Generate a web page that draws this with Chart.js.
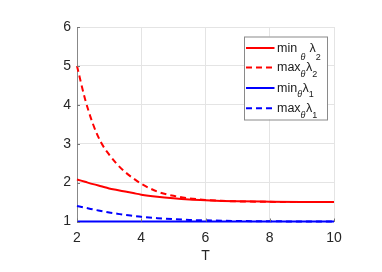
<!DOCTYPE html>
<html>
<head>
<meta charset="utf-8">
<script src="https://cdn.jsdelivr.net/npm/chart.js@4.4.1/dist/chart.umd.min.js"></script>
<style>
html,body{margin:0;padding:0;background:#fff;}
#wrap{width:382px;height:272px;}
</style>
</head>
<body>
<div id="wrap"><canvas id="c" width="382" height="272"></canvas></div>
<script>
// ---- data ----
const T      = [2, 2.25, 2.5, 2.75, 3, 3.25, 3.5, 3.75, 4, 4.5, 5, 5.5, 6, 6.5, 7, 8, 9, 10];
const minL2  = [2.08, 2.02, 1.96, 1.905, 1.85, 1.81, 1.77, 1.73, 1.69, 1.635, 1.595, 1.565, 1.545, 1.53, 1.52, 1.51, 1.503, 1.5];
const maxL2  = [5.0, 4.15, 3.5, 3.03, 2.72, 2.47, 2.27, 2.11, 1.97, 1.77, 1.66, 1.595, 1.555, 1.532, 1.518, 1.505, 1.5, 1.5];
const minL1  = [1, 1, 1, 1, 1, 1, 1, 1, 1, 1, 1, 1, 1, 1, 1, 1, 1, 1];
const maxL1  = [1.40, 1.355, 1.31, 1.27, 1.23, 1.2, 1.17, 1.145, 1.12, 1.085, 1.06, 1.04, 1.03, 1.02, 1.013, 1.005, 1.002, 1.0];
const xTicks = [2, 4, 6, 8, 10];
const yTicks = [1, 2, 3, 4, 5, 6];
const xTitle = 'T';
// legend: [main, sub1, main2, sub2]
const legendParts = [
  ['min ', '\u03B8', ' \u03BB', '2'],
  ['max', '\u03B8', '\u03BB', '2'],
  ['min', '\u03B8', '\u03BB', '1'],
  ['max', '\u03B8', '\u03BB', '1']
];

const pts = arr => T.map((t, i) => ({x: t, y: arr[i]}));
const FONT = '"Liberation Sans", Arial, Helvetica, sans-serif';

const legendPlugin = {
  id: 'matlabLegend',
  afterDraw(chart) {
    const ctx = chart.ctx;
    const bx = 244, by = 36.5, bw = 83, bh = 83;
    ctx.save();
    ctx.fillStyle = '#fff';
    ctx.fillRect(bx, by, bw, bh);
    ctx.strokeStyle = '#8a8a8a';
    ctx.lineWidth = 1;
    ctx.strokeRect(bx + 0.5, by + 0.5, bw, bh);
    const rowY = [48, 67.5, 88, 108.3];
    const drops = [8.5, 5.5, 5.5, 5.5];
    chart.data.datasets.forEach((ds, i) => {
      const y = rowY[i];
      ctx.strokeStyle = ds.borderColor;
      ctx.lineWidth = 2;
      ctx.setLineDash(ds.borderDash || []);
      ctx.beginPath();
      ctx.moveTo(246, y);
      ctx.lineTo(274.5, y);
      ctx.stroke();
      ctx.setLineDash([]);
      const p = legendParts[i];
      let x = 277;
      const base = y + 3.8;
      ctx.fillStyle = '#1a1a1a';
      ctx.textBaseline = 'alphabetic';
      ctx.textAlign = 'left';
      ctx.font = '12.5px ' + FONT;
      ctx.fillText(p[0], x, base); x += ctx.measureText(p[0]).width;
      ctx.font = 'italic 9px ' + FONT;
      ctx.fillText(p[1], x, base + drops[i]); x += ctx.measureText(p[1]).width + 0.5;
      ctx.font = '12.5px ' + FONT;
      ctx.fillText(p[2], x, base); x += ctx.measureText(p[2]).width;
      ctx.font = '9px ' + FONT;
      ctx.fillText(p[3], x, base + drops[i]);
    });
    ctx.restore();
  }
};

const tickPlugin = {
  id: 'inwardTicks',
  afterDatasetsDraw(chart) {
    const ctx = chart.ctx, xs = chart.scales.x, ys = chart.scales.y, a = chart.chartArea;
    ctx.save();
    ctx.strokeStyle = '#777';
    ctx.lineWidth = 1;
    ctx.beginPath();
    xTicks.forEach(v => { const px = Math.round(xs.getPixelForValue(v)) + 0.5; ctx.moveTo(px, a.bottom); ctx.lineTo(px, a.bottom - 3); });
    yTicks.forEach(v => { const py = Math.round(ys.getPixelForValue(v)) + 0.5; ctx.moveTo(a.left, py); ctx.lineTo(a.left + 3, py); });
    ctx.stroke();
    ctx.restore();
  }
};

new Chart(document.getElementById('c'), {
  type: 'line',
  data: {
    datasets: [
      {label: 'min_θ λ_2', data: pts(minL2), borderColor: '#ff0000', borderWidth: 2, pointRadius: 0, cubicInterpolationMode: 'monotone', clip: false},
      {label: 'max_θ λ_2', data: pts(maxL2), borderColor: '#ff0000', borderWidth: 2, borderDash: [6, 4], pointRadius: 0, cubicInterpolationMode: 'monotone', clip: false},
      {label: 'min_θ λ_1', data: pts(minL1), borderColor: '#0000ff', borderWidth: 2, pointRadius: 0, clip: false},
      {label: 'max_θ λ_1', data: pts(maxL1), borderColor: '#0000ff', borderWidth: 2, borderDash: [6, 4], pointRadius: 0, cubicInterpolationMode: 'monotone', clip: false}
    ]
  },
  options: {
    responsive: false,
    animation: false,
    layout: {padding: {top: 27, right: 48, bottom: 0, left: 0}},
    plugins: {legend: {display: false}, tooltip: {enabled: false}},
    scales: {
      x: {
        type: 'linear', min: 2, max: 10,
        afterBuildTicks: s => { s.ticks = xTicks.map(v => ({value: v})); },
        afterFit: s => { s.height = 50.5; },
        grid: {color: '#e4e4e4', drawTicks: false},
        border: {color: '#888', width: 1},
        ticks: {color: '#262626', font: {family: FONT, size: 14}, padding: 8, maxRotation: 0},
        title: {display: true, text: xTitle, color: '#262626', font: {family: FONT, size: 14}, padding: {top: 0, bottom: 7}}
      },
      y: {
        type: 'linear', min: 1, max: 6,
        afterBuildTicks: s => { s.ticks = yTicks.map(v => ({value: v})); },
        afterFit: s => { s.width = 77; },
        grid: {color: '#e4e4e4', drawTicks: false},
        border: {color: '#888', width: 1},
        ticks: {color: '#262626', font: {family: FONT, size: 14}, padding: 6}
      }
    }
  },
  plugins: [tickPlugin, legendPlugin]
});
</script>
</body>
</html>
